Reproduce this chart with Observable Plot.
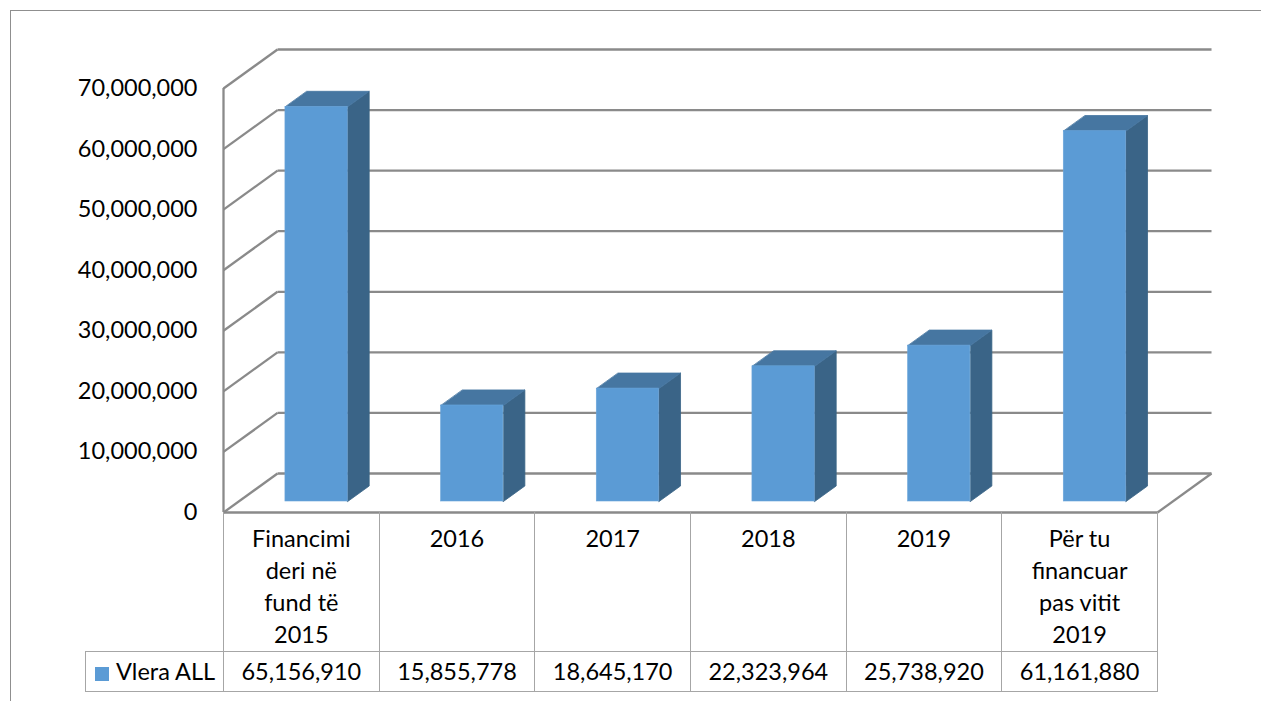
<!DOCTYPE html>
<html>
<head>
<meta charset="utf-8">
<script src="https://cdn.jsdelivr.net/npm/d3@7"></script>
<script src="https://cdn.jsdelivr.net/npm/@observablehq/plot@0.6"></script>
<style>
  html, body { margin: 0; padding: 0; background: #fff; }
  #wrap { position: relative; width: 1261px; height: 701px; overflow: hidden; font-family: Lato, "Open Sans", sans-serif; color: #000; }
  #frame { position: absolute; left: 10px; top: 10px; width: 1300px; height: 760px; border-left: 1.5px solid #8f8f8f; border-top: 1.5px solid #8f8f8f; }
  #chart { position: absolute; left: 0; top: 0; }
  table.dt { position: absolute; border-collapse: collapse; table-layout: fixed; font-size: 23.5px; }
  table.dt td { padding: 0; text-align: center; }
  table.dt tr.hdr td.cat { border-left: 1.5px solid #a6a6a6; border-right: 1.5px solid #a6a6a6; vertical-align: top; line-height: 32px; padding-top: 10px; }
  table.dt tr.val td { border: 1.5px solid #a6a6a6; vertical-align: middle; }
  table.dt tr.val td.leg { text-align: left; padding-left: 9px; white-space: nowrap; }
  .sw { display: inline-block; width: 14px; height: 14px; background: #5b9bd5; margin-right: 7px; vertical-align: -1px; }
</style>
</head>
<body>
<div id="wrap"><div id="frame"></div></div>
<script>
// ---- data ----
const categories = ["Financimi deri në fund të 2015", "2016", "2017", "2018", "2019", "Për tu financuar pas vitit 2019"];
const categoryLines = [["Financimi", "deri në", "fund të", "2015"], ["2016"], ["2017"], ["2018"], ["2019"], ["Për tu", "financuar", "pas vitit", "2019"]];
const values = [65156910, 15855778, 18645170, 22323964, 25738920, 61161880];
const seriesName = "Vlera ALL";
const yTicks = [0, 10000000, 20000000, 30000000, 40000000, 50000000, 60000000, 70000000];

// ---- oblique 3D projection in data units ----
const DX = 0.347;      // depth shift in category units
const DY = 6.44e6;     // depth shift in value units
const D0 = 0.282, D1 = 0.68, HW = 0.2;
const P = (c, v, d) => ({x: c + d * DX, y: v + d * DY});

const gridColor = "#8a8a8a";
const frontColor = "#5b9bd5", sideColor = "#3a6487", topColor = "#4676a1";

const fronts = values.map((v, i) => {
  const c = i + 0.5;
  return {x1: c - HW + D0 * DX, x2: c + HW + D0 * DX, y1: D0 * DY, y2: v + D0 * DY};
});
const sides = values.flatMap((v, i) => {
  const c = i + 0.5;
  return [P(c + HW, 0, D0), P(c + HW, 0, D1), P(c + HW, v, D1), P(c + HW, v, D0)].map(p => ({...p, id: i}));
});
const tops = values.flatMap((v, i) => {
  const c = i + 0.5;
  return [P(c - HW, v, D0), P(c + HW, v, D0), P(c + HW, v, D1), P(c - HW, v, D1)].map(p => ({...p, id: i}));
});

const n = categories.length;
const chart = Plot.plot({
  width: 1261, height: 701,
  margin: 0,
  x: {domain: [0, n], range: [223, 1157], axis: null},
  y: {domain: [0, 70000000], range: [512, 88], axis: null},
  style: {fontFamily: "Lato, 'Open Sans', sans-serif", background: "transparent", overflow: "visible"},
  marks: [
    // back wall
    Plot.link(yTicks, {x1: () => DX, x2: () => n + DX, y1: t => t + DY, y2: t => t + DY, stroke: gridColor, strokeWidth: 2.3}),
    // left wall diagonals
    Plot.link(yTicks, {x1: () => 0, y1: t => t, x2: () => DX, y2: t => t + DY, stroke: gridColor, strokeWidth: 2.3}),
    // floor right edge
    Plot.link([0], {x1: () => n, y1: () => 0, x2: () => n + DX, y2: () => DY, stroke: gridColor, strokeWidth: 2.3}),
    // front vertical axis line
    Plot.ruleX([0], {y1: 0, y2: 70000000, stroke: gridColor, strokeWidth: 2.3}),
    // floor front edge
    Plot.ruleY([0], {x1: 0, x2: n, stroke: gridColor, strokeWidth: 2.3}),
    // bars
    Plot.line(sides, {x: "x", y: "y", z: "id", curve: "linear-closed", fill: sideColor, stroke: sideColor, strokeWidth: 0.8}),
    Plot.line(tops, {x: "x", y: "y", z: "id", curve: "linear-closed", fill: topColor, stroke: topColor, strokeWidth: 0.8}),
    Plot.rect(fronts, {x1: "x1", x2: "x2", y1: "y1", y2: "y2", fill: frontColor, stroke: "#6aa5da", strokeWidth: 0.6}),
    // y tick labels
    Plot.text(yTicks, {x: () => 0, y: t => t, dx: -26, textAnchor: "end", text: t => d3.format(",")(t), fontSize: 23.5, fill: "#000"})
  ]
});
chart.id = "chart";
const wrap = document.getElementById("wrap");
wrap.appendChild(chart);

// ---- data table below the floor ----
const xs = chart.scale("x");
const ys = chart.scale("y");
const edges = d3.range(n + 1).map(i => xs.apply(i));
const tableLeft = 85;
const tbl = document.createElement("table");
tbl.className = "dt";
tbl.style.left = tableLeft + "px";
tbl.style.top = ys.apply(0) + "px";
const colgroup = document.createElement("colgroup");
const widths = [edges[0] - tableLeft, ...d3.range(n).map(i => edges[i + 1] - edges[i])];
widths.forEach(w => { const c = document.createElement("col"); c.style.width = w + "px"; colgroup.appendChild(c); });
tbl.appendChild(colgroup);
tbl.style.width = (edges[n] - tableLeft) + "px";

const hdr = document.createElement("tr");
hdr.className = "hdr";
hdr.style.height = "139px";
hdr.appendChild(document.createElement("td"));
categoryLines.forEach(lines => {
  const td = document.createElement("td");
  td.className = "cat";
  td.innerHTML = lines.join("<br>");
  hdr.appendChild(td);
});
tbl.appendChild(hdr);

const val = document.createElement("tr");
val.className = "val";
val.style.height = "40px";
const leg = document.createElement("td");
leg.className = "leg";
leg.innerHTML = '<span class="sw"></span>' + seriesName;
val.appendChild(leg);
values.forEach(v => {
  const td = document.createElement("td");
  td.textContent = d3.format(",")(v);
  val.appendChild(td);
});
tbl.appendChild(val);
wrap.appendChild(tbl);
</script>
</body>
</html>
